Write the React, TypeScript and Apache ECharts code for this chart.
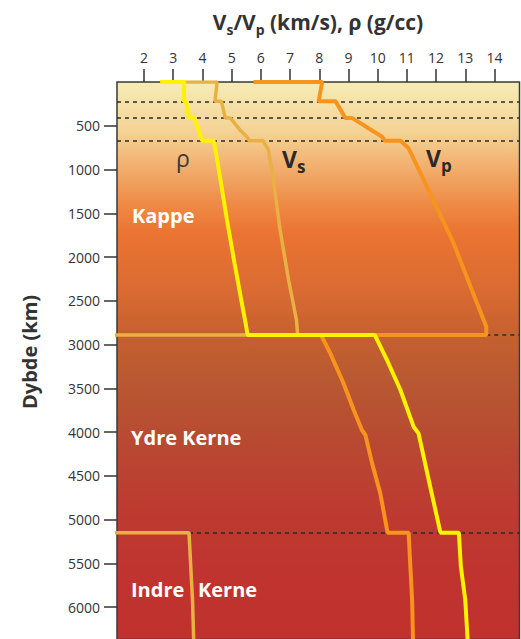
import React, { useEffect, useRef } from 'react';
import * as echarts from 'echarts';

// ---- data (value, depth km) ----
const topTicks = [2, 3, 4, 5, 6, 7, 8, 9, 10, 11, 12, 13, 14];
const depthTicks = [500, 1000, 1500, 2000, 2500, 3000, 3500, 4000, 4500, 5000, 5500, 6000];

const rhoCurve: [number, number][] = [
  [2.55, 0], [3.38, 0], [3.36, 220], [3.44, 220], [3.54, 410], [3.72, 410],
  [3.99, 670], [4.38, 670], [4.45, 780], [4.58, 1043], [4.84, 1577], [5.1, 2072],
  [5.34, 2510], [5.48, 2760], [5.55, 2891],
  [9.9, 2891], [10.32, 3177], [10.78, 3520], [11.23, 3939], [11.4, 4015],
  [11.8, 4625], [12.15, 5150],
  [12.78, 5150], [12.85, 5540], [13.0, 5920], [13.08, 6371],
];

const vsCurve: [number, number][] = [
  [3.4, 0], [4.5, 0], [4.43, 220], [4.65, 220], [4.78, 410], [4.95, 410],
  [5.29, 549], [5.52, 625], [5.6, 670], [6.08, 670], [6.26, 779], [6.43, 1120],
  [6.66, 1691], [6.95, 2263], [7.22, 2720], [7.26, 2891],
  [0, 2891], [0, 5150],
  [3.54, 5150], [3.6, 5540], [3.66, 5920], [3.7, 6371],
];

const vpCurve: [number, number][] = [
  [5.75, 0], [8.1, 0], [7.98, 220], [8.56, 220], [8.89, 410], [9.12, 410],
  [10.15, 625], [10.25, 670], [10.78, 670], [11.06, 758], [11.8, 1272],
  [12.6, 1843], [13.63, 2720], [13.72, 2797], [13.72, 2891],
  [8.06, 2891], [8.38, 3101], [8.83, 3443], [9.18, 3749], [9.46, 3977],
  [9.58, 4034], [9.81, 4358], [10.09, 4701], [10.34, 5150],
  [11.06, 5150], [11.12, 5539], [11.18, 5920], [11.21, 6371],
];

const upperMantleBreaks = [220, 410, 670];
const cmbDepth = 2891;
const icbDepth = 5150;
const vpAtCmb = 13.72;
const vsAtIcb = 3.54;
const earthRadius = 6371;
const xMin = 1.074;
const xMax = 14.857;

const FONT = 'Open Sans';

export default function App() {
  const ref = useRef<HTMLDivElement>(null);
  useEffect(() => {
    document.body.style.margin = '0';
    document.body.style.overflow = 'hidden';
    const chart = echarts.init(ref.current!, null, { renderer: 'svg' });

    const bg = new echarts.graphic.LinearGradient(0, 0, 0, 1, [
      { offset: 0, color: '#f6ecb6' },
      { offset: 0.09, color: '#f4d394' },
      { offset: 0.15, color: '#f2b070' },
      { offset: 0.22, color: '#ee8a45' },
      { offset: 0.27, color: '#eb7432' },
      { offset: 0.38, color: '#d86a32' },
      { offset: 0.45, color: '#c6612f' },
      { offset: 0.54, color: '#b85832' },
      { offset: 0.64, color: '#b84a32' },
      { offset: 0.76, color: '#bd3b30' },
      { offset: 0.89, color: '#c0332f' },
      { offset: 1, color: '#c0312e' },
    ]);

    const dashed = [
      ...upperMantleBreaks.map((d) => [{ coord: [xMin, d] }, { coord: [xMax, d] }]),
      [{ coord: [vpAtCmb, cmbDepth] }, { coord: [xMax, cmbDepth] }],
      [{ coord: [vsAtIcb, icbDepth] }, { coord: [xMax, icbDepth] }],
    ];

    const subRich = (main: number, sub: number, color: string) => ({
      m: { fontSize: main, fontWeight: 'bold', fontFamily: FONT, lineHeight: main + 8, fill: color, color },
      s: { fontSize: sub, fontWeight: 'bold', fontFamily: FONT, lineHeight: sub + 2, verticalAlign: 'bottom', fill: color, color },
    });

    const option: any = {
      animation: false,
      grid: {
        left: 117, right: 1.5, top: 82, bottom: 10.5,
        show: true, backgroundColor: bg, borderColor: '#3a3a3a', borderWidth: 1.5,
      },
      xAxis: {
        type: 'value', position: 'top', min: xMin, max: xMax,
        axisLine: { show: false },
        splitLine: { show: false },
        axisTick: { show: true, length: 13, customValues: topTicks, lineStyle: { color: '#333', width: 1.5 } },
        axisLabel: { customValues: topTicks, margin: 18, fontSize: 14, fontFamily: FONT, color: '#333',
          formatter: (v: number) => String(v) },
      },
      yAxis: {
        type: 'value', inverse: true, min: 0, max: earthRadius,
        axisLine: { show: false },
        splitLine: { show: false },
        axisTick: { show: true, length: 13, customValues: depthTicks, lineStyle: { color: '#333', width: 1.5 } },
        axisLabel: { customValues: depthTicks, margin: 17, fontSize: 14, fontFamily: FONT, color: '#333',
          formatter: (v: number) => String(v) },
      },
      series: [
        {
          type: 'line', name: 'bounds', data: [], z: 1, silent: true,
          markLine: {
            silent: true, symbol: ['none', 'none'], label: { show: false }, z: 1,
            lineStyle: { type: [4, 4], color: '#2b2b2b', width: 1.5 },
            data: dashed,
          },
        },
        { type: 'line', name: 'Vp', data: vpCurve, showSymbol: false, symbol: 'none', z: 3,
          lineStyle: { color: '#f7941d', width: 4 } },
        { type: 'line', name: 'Vs', data: vsCurve, showSymbol: false, symbol: 'none', z: 4,
          lineStyle: { color: '#e9b143', width: 3.5 } },
        { type: 'line', name: 'rho', data: rhoCurve, showSymbol: false, symbol: 'none', z: 5,
          lineStyle: { color: '#fff200', width: 4 } },
      ],
      graphic: [
        {
          type: 'text', x: 318, y: 22, z: 10,
          style: {
            text: '{m|V}{s|s}{m|/V}{s|p}{m| (km/s), ρ (g/cc)}',
            textAlign: 'center', textVerticalAlign: 'middle',
            rich: subRich(21, 14, '#333'),
          },
        },
        {
          type: 'text', x: 29, y: 352, rotation: Math.PI / 2, z: 10,
          style: { text: 'Dybde (km)', textAlign: 'center', textVerticalAlign: 'middle',
            fontSize: 20, fontWeight: 'bold', fontFamily: FONT, fill: '#333' },
        },
        {
          type: 'text', x: 183, y: 158, z: 10,
          style: { text: 'ρ', textAlign: 'center', textVerticalAlign: 'middle',
            fontSize: 23, fontFamily: FONT, fill: '#3a3a3a' },
        },
        {
          type: 'text', x: 282, y: 159, z: 10,
          style: { text: '{m|V}{s|s}', textAlign: 'left', textVerticalAlign: 'middle', rich: subRich(23, 17, '#2a2a2a') },
        },
        {
          type: 'text', x: 426, y: 158, z: 10,
          style: { text: '{m|V}{s|p}', textAlign: 'left', textVerticalAlign: 'middle', rich: subRich(23, 17, '#2a2a2a') },
        },
        {
          type: 'text', x: 132, y: 215, z: 10,
          style: { text: 'Kappe', textAlign: 'left', textVerticalAlign: 'middle',
            fontSize: 20, fontWeight: 'bold', fontFamily: FONT, fill: '#ffffff' },
        },
        {
          type: 'text', x: 131, y: 437, z: 10,
          style: { text: 'Ydre Kerne', textAlign: 'left', textVerticalAlign: 'middle',
            fontSize: 20, fontWeight: 'bold', fontFamily: FONT, fill: '#ffffff' },
        },
        {
          type: 'text', x: 131, y: 589, z: 10,
          style: { text: 'Indre', textAlign: 'left', textVerticalAlign: 'middle',
            fontSize: 20, fontWeight: 'bold', fontFamily: FONT, fill: '#ffffff' },
        },
        {
          type: 'text', x: 198, y: 589, z: 10,
          style: { text: 'Kerne', textAlign: 'left', textVerticalAlign: 'middle',
            fontSize: 20, fontWeight: 'bold', fontFamily: FONT, fill: '#ffffff' },
        },
      ],
    };

    chart.setOption(option);
    return () => chart.dispose();
  }, []);
  return <div ref={ref} style={{ width: 521, height: 650 }} />;
}
